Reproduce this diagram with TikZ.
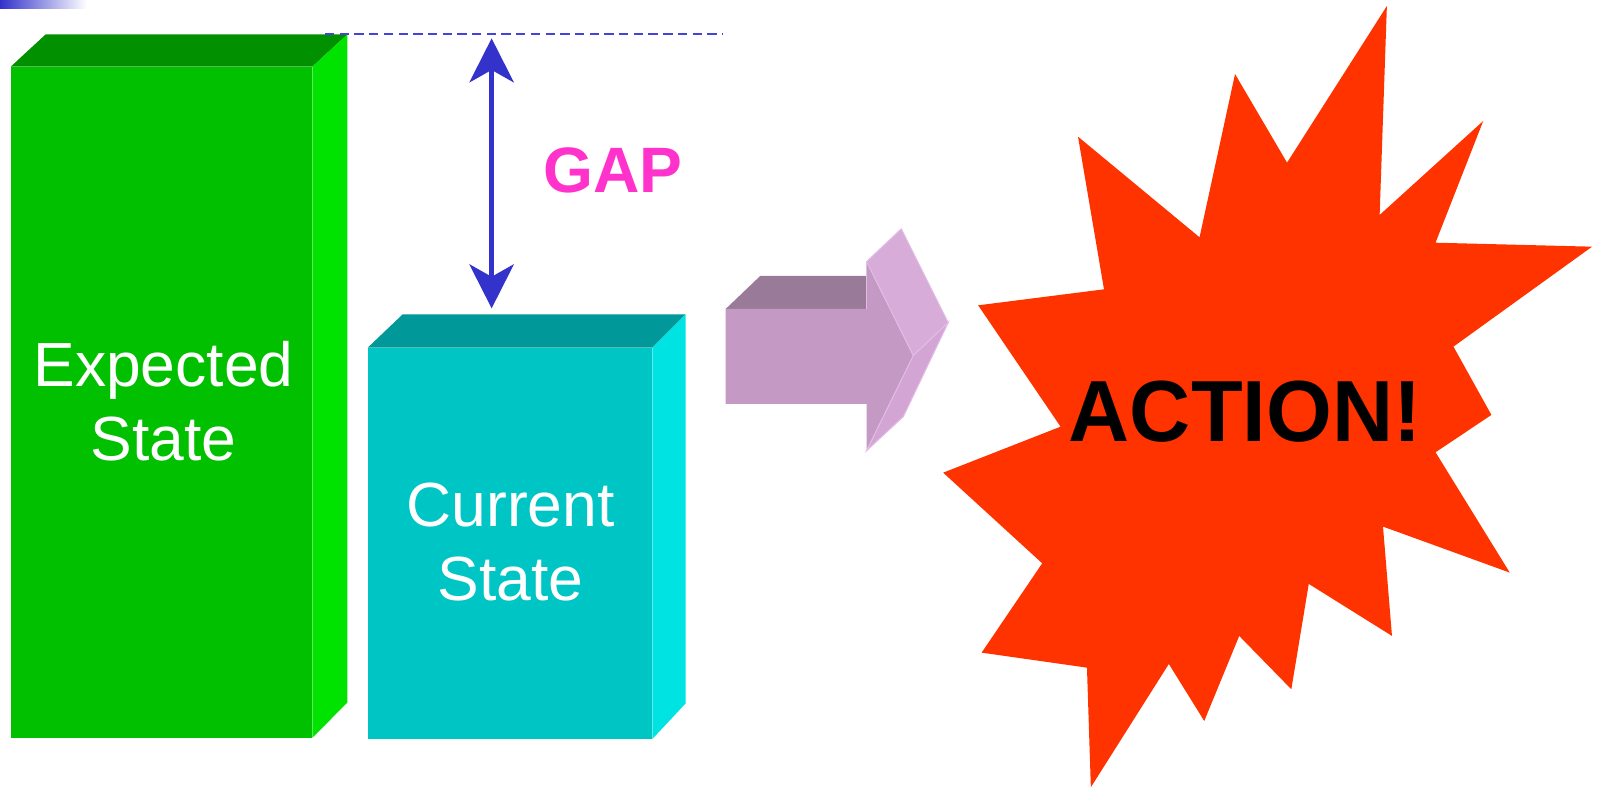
\documentclass[tikz,border=0pt]{standalone}
\usepackage{fontspec}
\usepackage{graphicx}
\setmainfont{Liberation Sans}
\usetikzlibrary{arrows.meta}

\definecolor{barblue}{HTML}{3333CC}
\definecolor{greentop}{HTML}{009000}
\definecolor{greenfront}{HTML}{00C000}
\definecolor{greenside}{HTML}{00E300}
\definecolor{tealtop}{HTML}{009898}
\definecolor{tealfront}{HTML}{00C5C5}
\definecolor{tealside}{HTML}{00E3E3}
\definecolor{gapblue}{HTML}{3333CC}
\definecolor{dashblue}{HTML}{4444DD}
\definecolor{gappink}{HTML}{FF33CC}
\definecolor{arrowtop}{HTML}{997A98}
\definecolor{arrowfront}{HTML}{C49AC5}
\definecolor{arrowhead}{HTML}{D8ACD9}
\definecolor{arrowheadlow}{HTML}{D3A5D4}
\definecolor{arrowedge}{HTML}{E2BCE4}
\definecolor{burstred}{HTML}{FF3300}

\tikzset{gaptip/.tip={Stealth[length=0.431cm, width=0.434cm, inset=0.121cm]}}

\begin{document}
\begin{tikzpicture}[x=0.01cm, y=-0.01cm, line join=miter,
  boxlabel/.style={text=white, align=center, inner sep=0pt,
    font=\fontsize{17.4}{20.6}\selectfont},
  gaplabel/.style={text=gappink, inner sep=0pt, anchor=base,
    font=\fontsize{17.9}{20}\selectfont\bfseries},
  actionlabel/.style={text=black, inner sep=0pt, anchor=base,
    font=\fontsize{24.2}{28}\selectfont\bfseries},
  gaparrow/.style={draw=gapblue, line width=1.35pt, {gaptip}-{gaptip}},
  levelline/.style={draw=dashblue, line width=0.55pt, dash pattern=on 2.6pt off 1.5pt},
  headface/.style={fill=arrowhead, draw=arrowedge, line width=0.3pt}]

\useasboundingbox (0,0) rectangle (1568,773);

% fading bar in the top left corner
\shade[left color=barblue, right color=white] (0,0) rectangle (85,8.2);

% expected state block
\fill[greentop] (10.5,65.4) -- (44.8,33.7) -- (340.6,33.7) -- (306.3,65.4) -- cycle;
\fill[greenside] (306.3,65.4) -- (340.6,33.7) -- (340.6,689) -- (306.3,723.4) -- cycle;
\fill[greenfront] (10.5,65.4) rectangle (306.3,723.4);
\node[boxlabel] (expected) at (160.4,393.5) {Expected\\State};

% current state block
\fill[tealtop] (360.5,341) -- (394.9,308.2) -- (672.4,308.2) -- (639.7,341) -- cycle;
\fill[tealside] (639.7,341) -- (672.4,308.2) -- (672.4,689.7) -- (639.7,724.7) -- cycle;
\fill[tealfront] (360.5,341) rectangle (639.7,724.7);
\node[boxlabel] (current) at (500.7,531.5) {Current\\State};

% expected level and the gap between the two levels
\coordinate (levelstart) at (318.7,33.6);
\coordinate (levelend) at (708.7,33.6);
\draw[levelline] (levelstart) -- (levelend);
\coordinate (gaptop) at (482.1,37.6);
\coordinate (gapbottom) at (482.1,302.4);
\draw[gaparrow] (gaptop) -- (gapbottom);
\node[gaplabel] (gap) at (601,189) {GAP};

% block arrow pointing to the burst
\fill[arrowtop] (711.6,303) -- (745.6,270.5) -- (849.8,270.5) -- (849.8,303) -- cycle;
\fill[arrowfront] (711.6,303) -- (849.8,303) -- (849.8,256.6) -- (895.6,348.7)
  -- (849.8,441.9) -- (849.8,396.1) -- (711.6,396.1) -- cycle;
\filldraw[headface] (849.8,256.6) -- (883.8,224.4) -- (929.8,316.4) -- (895.6,348.7) -- cycle;
\filldraw[headface, fill=arrowheadlow] (895.6,348.7) -- (929.8,316.4) -- (885.8,408.6) -- (849.8,441.9) -- cycle;
\draw[arrowedge, line width=0.4pt] (849.8,257) -- (849.8,303);

% the burst
\fill[burstred] (1360.0,5.9) -- (1352.9,210.8) -- (1454.5,118.6) -- (1407.7,238.0)
  -- (1561.2,241.9) -- (1425.3,339.9) -- (1462.5,406.9) -- (1407.7,443.5)
  -- (1480.5,561.5) -- (1356.2,516.4) -- (1365.0,623.6) -- (1283.4,572.6)
  -- (1266.3,675.9) -- (1215.2,623.6) -- (1180.9,707.0) -- (1146.2,651.1)
  -- (1069.7,772.0) -- (1065.9,654.7) -- (962.6,640.0) -- (1022.0,552.4)
  -- (924.9,463.5) -- (1040.0,418.4) -- (959.2,299.4) -- (1082.6,283.7)
  -- (1057.1,134.0) -- (1176.3,232.7) -- (1211.1,72.6) -- (1262.1,159.5) -- cycle;
\node[actionlabel] (action) at (1221,433.4) {\scalebox{0.975}[1]{ACTION!}};

\end{tikzpicture}
\end{document}
